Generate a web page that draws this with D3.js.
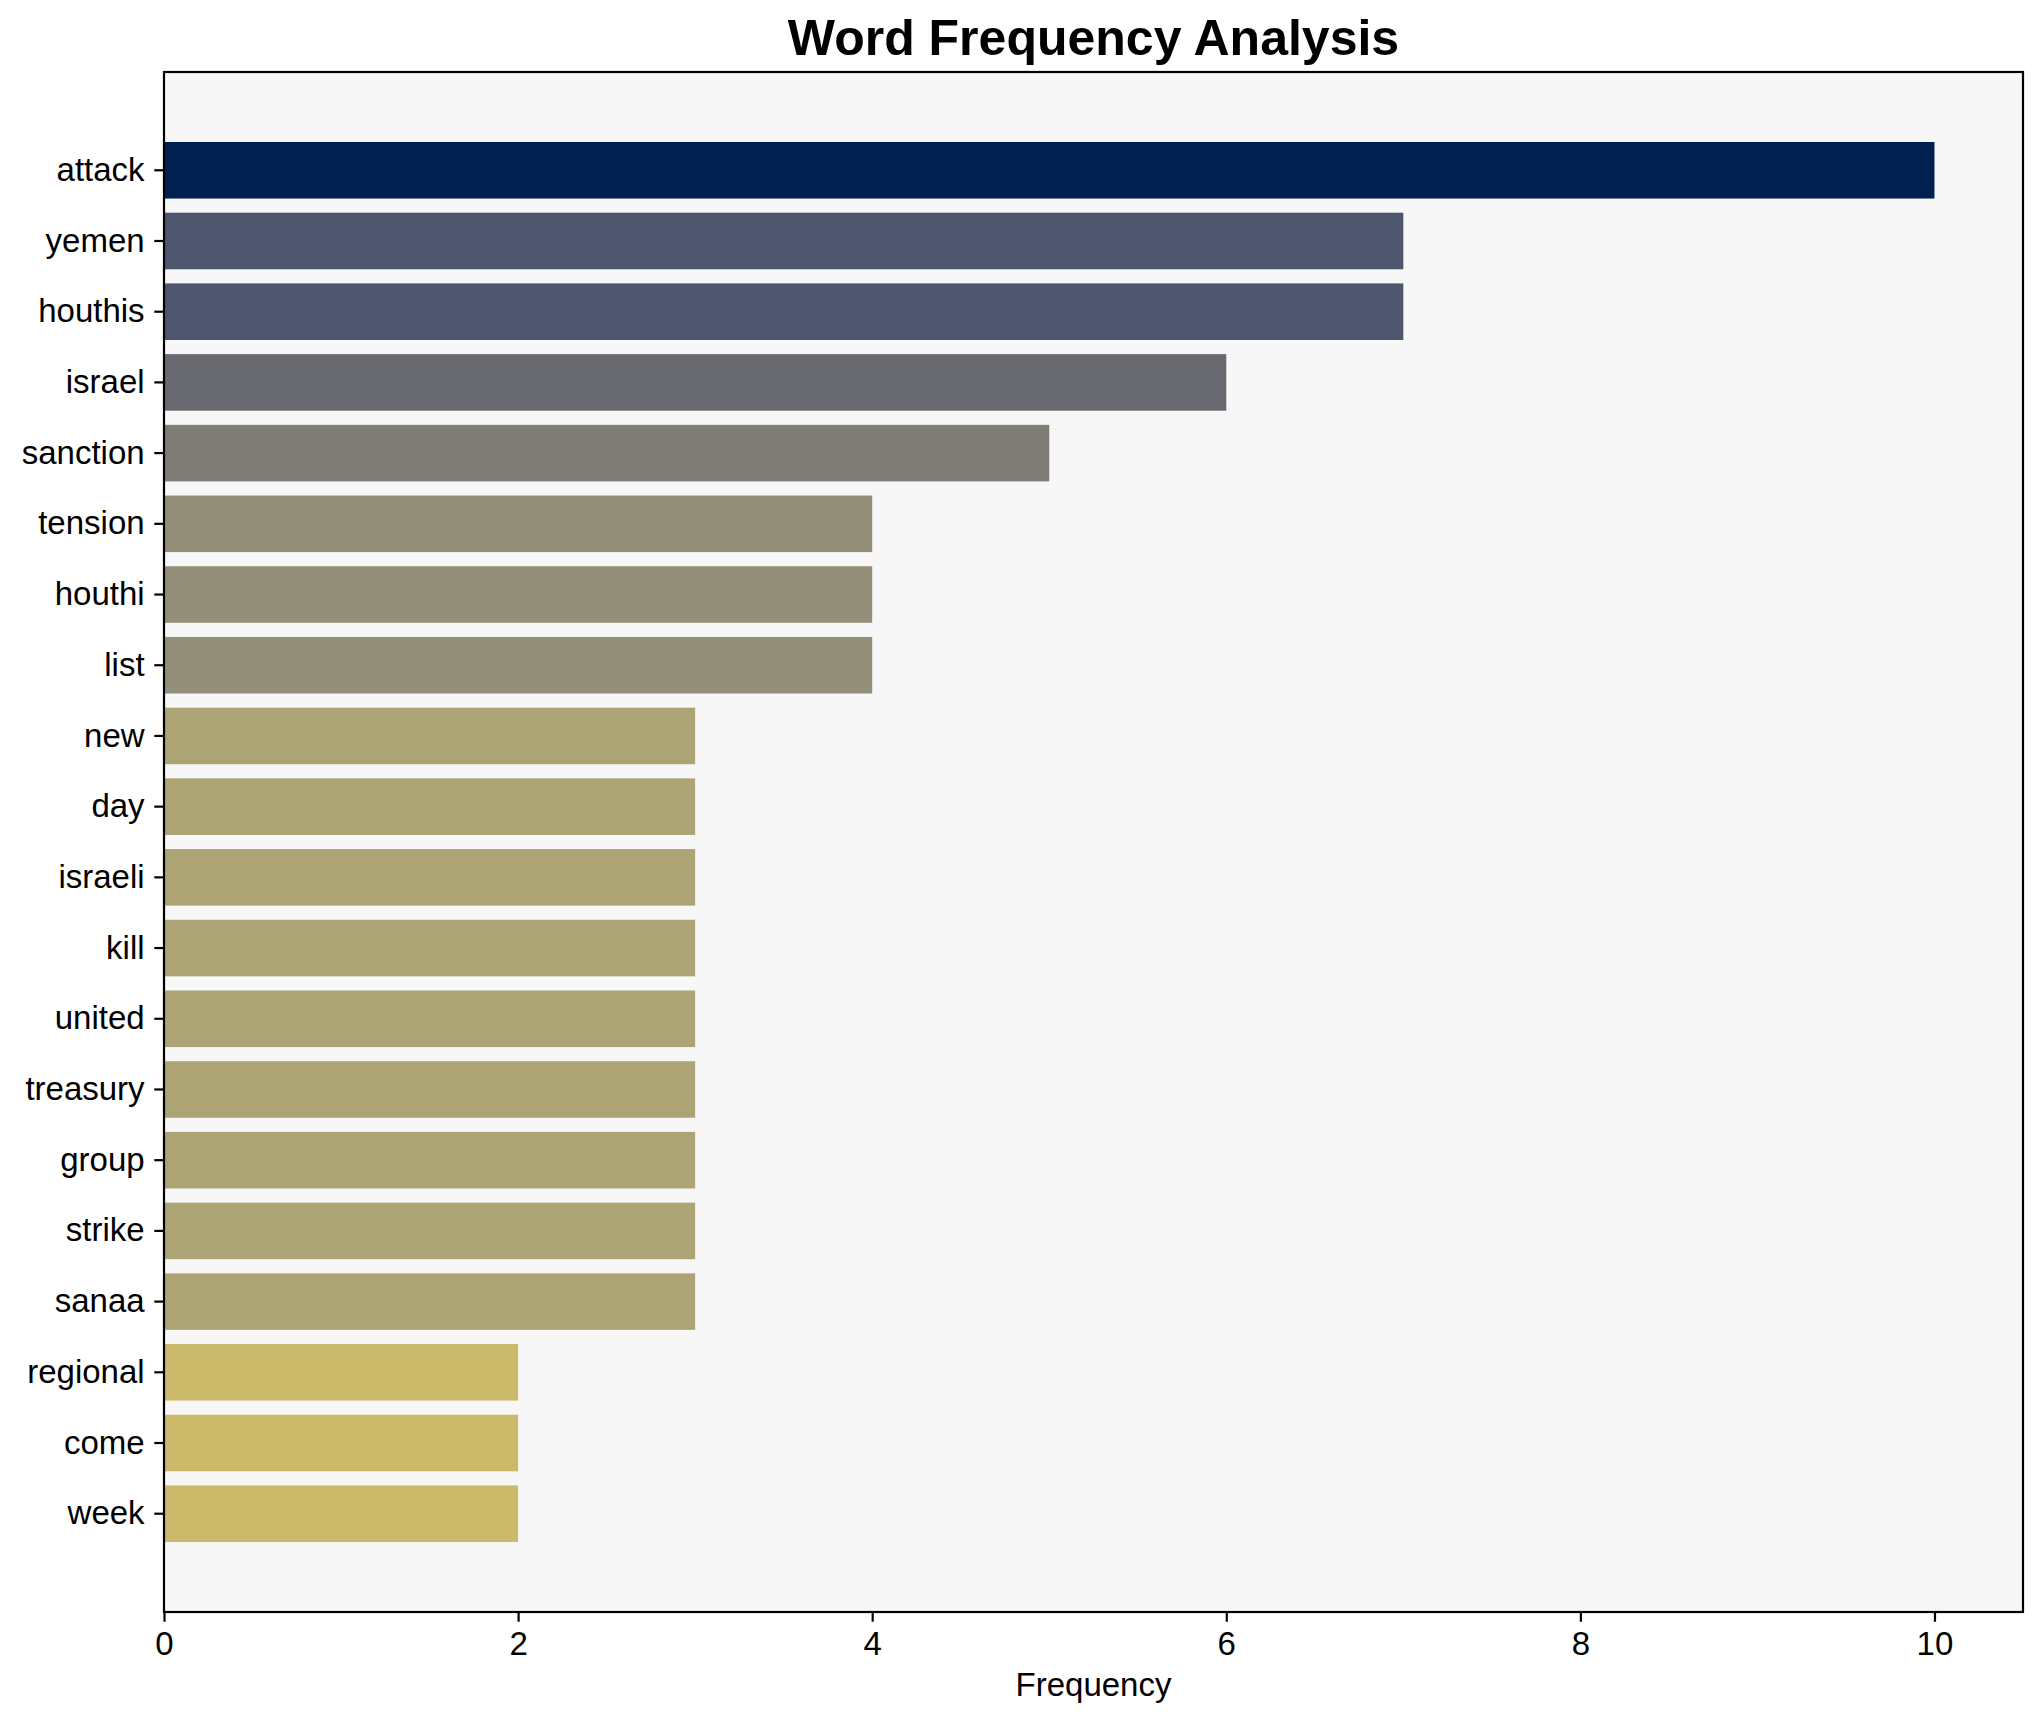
<!DOCTYPE html>
<meta charset="utf-8">
<html>
  <style>
    body, html{ margin: 0; background: #fff;}
    text{ font-family: "Liberation Sans", Arial, sans-serif; fill: #000; }
    .axis path, .axis line{ stroke: #000; stroke-width: 2.2; }
  </style>
  <body>
    <svg></svg>
    <script src="https://cdn.jsdelivr.net/npm/d3@7"></script>
    <script>
var words = ['attack', 'yemen', 'houthis', 'israel', 'sanction', 'tension', 'houthi', 'list',
  'new', 'day', 'israeli', 'kill', 'united', 'treasury', 'group', 'strike', 'sanaa',
  'regional', 'come', 'week']
var counts = [10, 7, 7, 6, 5, 4, 4, 4, 3, 3, 3, 3, 3, 3, 3, 3, 3, 2, 2, 2]
var xTicks = [0, 2, 4, 6, 8, 10]

var w = 2043, h = 1722
  , m = {top: 72, right: 20, bottom: 110, left: 164}
  , iw = w - m.left - m.right
  , ih = h - m.top - m.bottom
  , svg = d3.select('svg').attr('width', w).attr('height', h)
  , translate = function(x, y){ return 'translate(' + x + ',' + y + ')' }

var x = d3.scaleLinear().domain([0, 10.5]).range([0, iw])
  , y = d3.scaleBand().domain(words).range([0, ih]).paddingInner(0.2).paddingOuter(0.99)
  , maxCount = d3.max(counts)
  , color = function(v){ return d3.interpolateCividis(1 - v / maxCount) }

var g = svg.append('g').attr('transform', translate(m.left, m.top))

g.append('rect').attr('width', iw).attr('height', ih).attr('fill', '#f7f7f7')

g.selectAll('.bar').data(words).enter().append('rect')
  .attr('class', 'bar')
  .attr('x', 0)
  .attr('y', function(d){ return y(d) })
  .attr('height', y.bandwidth())
  .attr('width', function(d, i){ return x(counts[i]) })
  .attr('fill', function(d, i){ return color(counts[i]) })

// frame
g.append('rect').attr('width', iw).attr('height', ih)
  .attr('fill', 'none').attr('stroke', '#000').attr('stroke-width', 2.2)

var xAxis = g.append('g').attr('class', 'axis').attr('transform', translate(0, ih))
  .call(d3.axisBottom(x).tickValues(xTicks).tickFormat(d3.format('d')).tickSize(9.7).tickPadding(9.7))
xAxis.select('.domain').remove()
xAxis.selectAll('text').attr('font-size', 33).attr('font-family', null)

var yAxis = g.append('g').attr('class', 'axis')
  .call(d3.axisLeft(y).tickSize(9.7).tickPadding(9.7))
yAxis.select('.domain').remove()
yAxis.selectAll('text').attr('font-size', 33).attr('font-family', null)

g.append('text').attr('x', iw / 2).attr('y', ih + 84)
  .attr('text-anchor', 'middle').attr('font-size', 33).text('Frequency')

svg.append('text').attr('x', m.left + iw / 2).attr('y', 55)
  .attr('text-anchor', 'middle').attr('font-size', 50).attr('font-weight', 'bold')
  .text('Word Frequency Analysis')
    </script>
  </body>
</html>
